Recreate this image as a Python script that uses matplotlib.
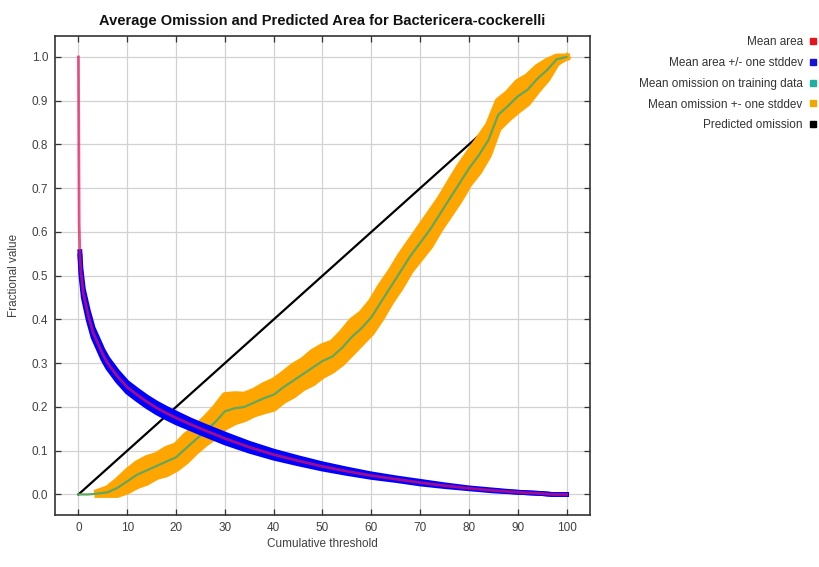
import numpy as np
import matplotlib.pyplot as plt
from matplotlib.lines import Line2D

plt.rcParams['font.family'] = ['Liberation Sans', 'DejaVu Sans']

# Mean predicted area (fraction) vs cumulative threshold
area_x = [0, 0.15, 0.3, 0.5, 1, 2, 3, 4, 5, 6, 7, 8, 10, 12, 14, 16, 18, 20, 23, 26,
          30, 35, 40, 45, 50, 55, 60, 65, 70, 75, 80, 85, 90, 95, 97, 100]
area_mean = [1.0, 0.62, 0.55, 0.51, 0.46, 0.41, 0.37, 0.345, 0.32, 0.30, 0.285, 0.27,
             0.245, 0.228, 0.212, 0.198, 0.186, 0.175, 0.16, 0.146, 0.128, 0.108, 0.091,
             0.077, 0.064, 0.053, 0.043, 0.035, 0.027, 0.02, 0.014, 0.009, 0.005, 0.002,
             0.0, 0.0]
area_sd = [0.0, 0.0, 0.005, 0.008, 0.01, 0.011, 0.011, 0.011, 0.011, 0.011, 0.011,
           0.011, 0.011, 0.011, 0.011, 0.011, 0.011, 0.011, 0.01, 0.01, 0.01, 0.009,
           0.008, 0.007, 0.006, 0.005, 0.004, 0.003, 0.003, 0.002, 0.001, 0.001, 0.0,
           0.0, 0.0, 0.0]

# Mean omission on training data
omis_x = list(range(0, 101, 2))
omis_mean = [0.0, 0.0, 0.002, 0.005, 0.015, 0.03, 0.045, 0.055, 0.065, 0.075, 0.085,
             0.105, 0.125, 0.145, 0.165, 0.19, 0.197, 0.2, 0.21, 0.22, 0.228, 0.245,
             0.26, 0.275, 0.29, 0.305, 0.315, 0.335, 0.36, 0.38, 0.405, 0.44, 0.475,
             0.51, 0.545, 0.575, 0.605, 0.64, 0.675, 0.71, 0.745, 0.775, 0.81, 0.868,
             0.888, 0.91, 0.925, 0.95, 0.97, 0.995, 1.0]
omis_sd = [0.0, 0.0, 0.003, 0.008, 0.016, 0.022, 0.025, 0.027, 0.024, 0.028, 0.026,
           0.029, 0.027, 0.028, 0.032, 0.036, 0.031, 0.027, 0.026, 0.029, 0.031, 0.03,
           0.033, 0.031, 0.035, 0.033, 0.031, 0.034, 0.036, 0.033, 0.035, 0.037, 0.034,
           0.036, 0.033, 0.035, 0.037, 0.034, 0.036, 0.038, 0.035, 0.037, 0.034, 0.031,
           0.029, 0.032, 0.03, 0.026, 0.02, 0.008, 0.0]

pred_x = [0, 100]
pred_y = [0.0, 1.0]

legend_labels = ['Mean area', 'Mean area +/- one stddev', 'Mean omission on training data',
                 'Mean omission +- one stddev', 'Predicted omission']
legend_colors = ['#e8141c', '#1414d2', '#1fb0a0', '#f0a800', '#000000']

area_x = np.array(area_x)
area_mean = np.array(area_mean)
area_sd = np.array(area_sd)
omis_x = np.array(omis_x)
omis_mean = np.array(omis_mean)
omis_sd = np.array(omis_sd)

area_lo = np.clip(area_mean - area_sd, 0, 1)
area_hi = np.clip(area_mean + area_sd, 0, 1)
omis_lo = np.clip(omis_mean - omis_sd, 0, 1)
omis_hi = np.clip(omis_mean + omis_sd, 0, 1)

fig = plt.figure(figsize=(8.2, 5.67), dpi=100)
ax = fig.add_axes([55 / 820, 52 / 567, 535 / 820, 479 / 567])

ax.plot(pred_x, pred_y, color='black', lw=1.6, zorder=2)

# omission band
ax.fill_between(omis_x, omis_lo, omis_hi, color='orange', lw=0, zorder=3)
ax.plot(omis_x[2:], omis_lo[2:], color='orange', lw=5, zorder=3)
ax.plot(omis_x[2:], omis_hi[2:], color='orange', lw=5, zorder=3)
ax.plot(omis_x, omis_mean, color='#5fa860', lw=1.6, zorder=4)

# area band
s = slice(2, None)
ax.fill_between(area_x[s], area_lo[s], area_hi[s], color='blue', lw=0, zorder=5)
ax.plot(area_x[s], area_lo[s], color='blue', lw=3.5, zorder=5)
ax.plot(area_x[s], area_hi[s], color='blue', lw=3.5, zorder=5)
ax.plot(area_x, area_mean, color='#e8105a', alpha=0.7, lw=2, zorder=6)

ax.set_xlim(-4.8, 104.8)
ax.set_ylim(-0.047, 1.048)
ax.set_xticks(np.arange(0, 101, 10))
ax.set_yticks(np.arange(0, 1.01, 0.1))
ax.yaxis.set_major_formatter(plt.FuncFormatter(lambda v, p: f'{v:.1f}'))
ax.grid(True, color='#d2d2d2', lw=0.9, zorder=0)
ax.set_axisbelow(True)
ax.tick_params(direction='in', length=4, width=0.9, top=True, right=True,
               labelsize=8.5, labelcolor='#404040', color='#333333', pad=5)
for sp in ax.spines.values():
    sp.set_color('#333333')
    sp.set_linewidth(1.2)

ax.set_xlabel('Cumulative threshold', fontsize=8.5, color='#404040', labelpad=3)
ax.set_ylabel('Fractional value', fontsize=8.5, color='#404040', labelpad=8)
ax.set_title('Average Omission and Predicted Area for Bactericera-cockerelli',
             fontsize=10.5, fontweight='bold', color='#111111', pad=8)

handles = [Line2D([], [], marker='s', ls='none', color=c, markersize=4.5) for c in legend_colors]
leg = fig.legend(handles, legend_labels, loc='upper right', bbox_to_anchor=(818 / 820, 1 - 36 / 567),
                 frameon=False, markerfirst=False, fontsize=8.5, handlelength=0.8,
                 handletextpad=0.5, labelspacing=0.75, borderpad=0, borderaxespad=0)
for t in leg.get_texts():
    t.set_color('#333333')

fig.savefig('out.png', dpi=100)
